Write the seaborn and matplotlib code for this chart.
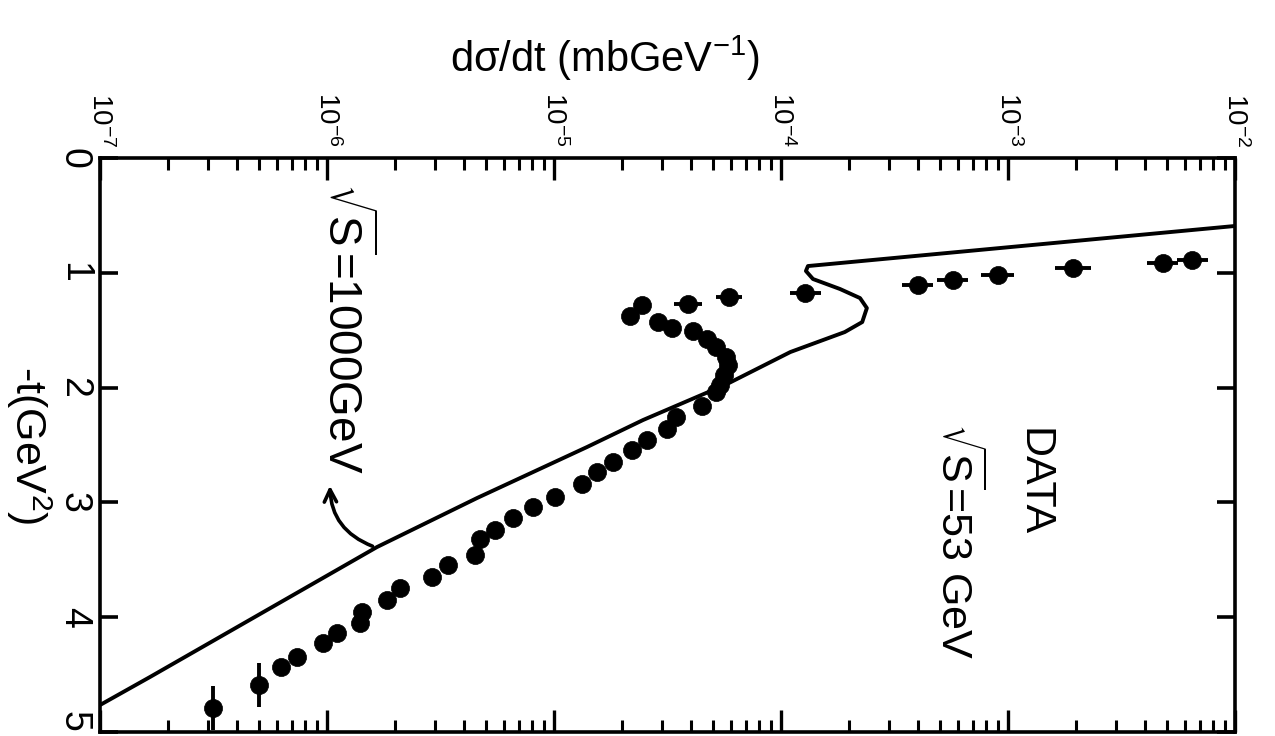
import matplotlib
matplotlib.use("Agg")
import matplotlib.pyplot as plt
import numpy as np
import pandas as pd
import seaborn as sns
from matplotlib.ticker import FixedLocator, NullFormatter, LogLocator

# ---------------- data ----------------
# measured points, sqrt(s)=53 GeV : -t (GeV^2) and d(sigma)/dt (mb/GeV^2)
t_data = [0.89, 0.915, 0.958, 1.019, 1.063, 1.106, 1.176, 1.211, 1.272, 1.280,
          1.376, 1.429, 1.481, 1.507, 1.577, 1.646, 1.733, 1.803, 1.890, 1.977,
          2.038, 2.160, 2.256, 2.361, 2.456, 2.544, 2.648, 2.735, 2.840, 2.953,
          3.040, 3.136, 3.240, 3.319, 3.458, 3.545, 3.650, 3.746, 3.850, 3.955,
          4.051, 4.138, 4.225, 4.347, 4.434, 4.591, 4.791]
dsdt_data = [6.5e-3, 4.8e-3, 1.93e-3, 9.0e-4, 5.7e-4, 4.0e-4, 1.28e-4, 5.9e-5, 3.9e-5, 2.45e-5,
             2.16e-5, 2.87e-5, 3.3e-5, 4.1e-5, 4.7e-5, 5.2e-5, 5.7e-5, 5.85e-5, 5.6e-5, 5.4e-5,
             5.2e-5, 4.5e-5, 3.45e-5, 3.15e-5, 2.57e-5, 2.21e-5, 1.82e-5, 1.55e-5, 1.33e-5, 1.01e-5,
             8.1e-6, 6.6e-6, 5.5e-6, 4.7e-6, 4.5e-6, 3.4e-6, 2.9e-6, 2.1e-6, 1.84e-6, 1.43e-6,
             1.40e-6, 1.11e-6, 9.6e-7, 7.4e-7, 6.3e-7, 5.0e-7, 3.15e-7]
# relative error on d(sigma)/dt (drawn as horizontal bars)
dsdt_relerr = [0.17, 0.17, 0.20, 0.18, 0.17, 0.17, 0.17, 0.14, 0.15, 0.0,
               0.0, 0.0, 0.0, 0.0, 0.0, 0.0, 0.0, 0.0, 0.0, 0.0,
               0.0, 0.0, 0.0, 0.0, 0.0, 0.0, 0.0, 0.0, 0.0, 0.0,
               0.0, 0.0, 0.0, 0.0, 0.0, 0.0, 0.0, 0.0, 0.0, 0.0,
               0.0, 0.0, 0.0, 0.0, 0.0, 0.0, 0.0]
# error along -t (drawn as vertical bars)
t_err = [0.0] * 45 + [0.19, 0.19]

# prediction, sqrt(s)=1000 GeV
t_curve = [0.592, 0.941, 0.984, 1.054, 1.141, 1.220, 1.307, 1.429, 1.516, 1.690,
           1.969, 2.282, 2.517, 2.962, 3.389, 4.521, 4.765]
dsdt_curve = [1.0e-2, 1.315e-4, 1.288e-4, 1.384e-4, 1.82e-4, 2.23e-4, 2.39e-4, 2.28e-4, 1.91e-4, 1.10e-4,
              5.78e-5, 2.47e-5, 1.40e-5, 4.58e-6, 1.66e-6, 1.66e-7, 1.0e-7]

x_ticks = [1e-7, 1e-6, 1e-5, 1e-4, 1e-3, 1e-2]
x_tick_labels = [r"$10^{-7}$", r"$10^{-6}$", r"$10^{-5}$", r"$10^{-4}$", r"$10^{-3}$", r"$10^{-2}$"]
y_ticks = [0, 1, 2, 3, 4, 5]
y_tick_labels = ["0", "1", "2", "3", "4", "5"]

# ---------------- style ----------------
sns.set_theme(style="ticks")
plt.rcParams["font.family"] = ["Liberation Sans", "DejaVu Sans"]
plt.rcParams["mathtext.default"] = "regular"

fig = plt.figure(figsize=(12.75, 7.36), dpi=100)
fig.patch.set_facecolor("white")
ax = fig.add_axes([0.0784, 0.0054, 0.8902, 0.7799])
ax.set_facecolor("white")
ax.set_xscale("log")

df_curve = pd.DataFrame({"dsdt": dsdt_curve, "t": t_curve})
sns.lineplot(data=df_curve, x="dsdt", y="t", sort=False, estimator=None,
             color="black", linewidth=2.8, ax=ax)

dsdt = np.array(dsdt_data)
rel = np.array(dsdt_relerr)
xerr = np.vstack([dsdt * rel / (1 + rel), dsdt * rel])
ax.errorbar(dsdt, t_data, xerr=xerr, yerr=t_err, fmt="none",
            ecolor="black", elinewidth=2.8, capsize=0, zorder=3)
df_pts = pd.DataFrame({"dsdt": dsdt_data, "t": t_data})
sns.scatterplot(data=df_pts, x="dsdt", y="t", color="black", edgecolor="black",
                s=170, marker="o", linewidth=0.5, ax=ax, zorder=4)

ax.set_xlim(1e-7, 1e-2)
ax.set_ylim(5, 0)

# axes frame and ticks
for sp in ax.spines.values():
    sp.set_visible(True)
    sp.set_linewidth(2.6)
    sp.set_color("black")

ax.xaxis.tick_top()
ax.xaxis.set_label_position("top")
ax.xaxis.set_major_locator(FixedLocator(x_ticks))
ax.xaxis.set_minor_locator(LogLocator(base=10, subs=np.arange(2, 10)))
ax.xaxis.set_minor_formatter(NullFormatter())
ax.set_xticklabels(x_tick_labels, rotation=-90, fontsize=20)
ax.set_yticks(y_ticks)
ylabels = ax.set_yticklabels(y_tick_labels, rotation=-90, fontsize=27, va="center")
ylabels[-1].set_va("bottom")

ax.tick_params(axis="x", which="major", direction="in", length=16, width=2.4,
               top=True, bottom=True, labeltop=True, labelbottom=False, pad=8, colors="black")
ax.tick_params(axis="x", which="minor", direction="in", length=8.5, width=2.2,
               top=True, bottom=True, colors="black")
ax.tick_params(axis="y", which="major", direction="in", length=13, width=2.6,
               left=True, right=True, pad=6, colors="black")

ax.set_xlabel(r"d$\sigma$/dt (mbGeV$^{-1}$)", fontsize=30, color="black")
ax.xaxis.set_label_coords(0.445, 1.15)
ax.set_ylabel(r"-t(GeV$^{2}$)", fontsize=31, rotation=-90, color="black", va="center")
ax.yaxis.set_label_coords(-0.063, 0.5)

# annotations
ax.text(1.29e-3, 2.82, "DATA", rotation=-90, ha="center", va="center",
        fontsize=31, color="black")
ax.text(5.96e-4, 3.34, r"$\sqrt{S}$=53 GeV", rotation=-90, ha="center", va="center",
        fontsize=31, color="black")
ax.text(1.2e-6, 1.48, r"$\sqrt{S}$=1000GeV", rotation=-90, ha="center", va="center",
        fontsize=33, color="black")
ax.annotate("", xy=(1.03e-6, 2.83), xytext=(1.63e-6, 3.39),
            arrowprops=dict(arrowstyle="->", color="black", lw=2.6,
                            connectionstyle="arc3,rad=-0.35", mutation_scale=22))

fig.savefig("out.png", dpi=100, facecolor="white")
